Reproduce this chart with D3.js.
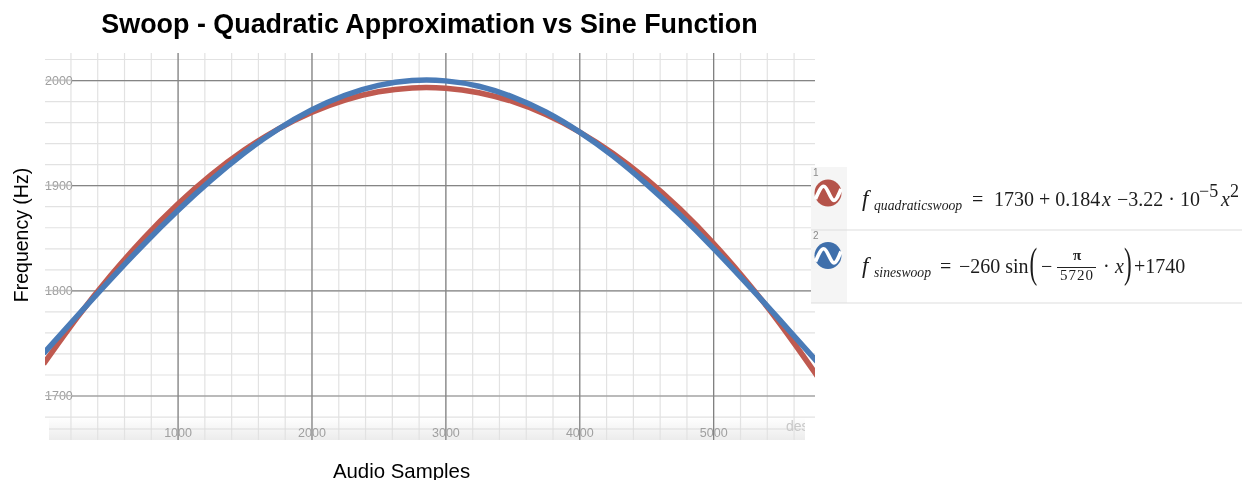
<!DOCTYPE html>
<html>
<head>
<meta charset="utf-8">
<title>Swoop - Quadratic Approximation vs Sine Function</title>
<script src="https://d3js.org/d3.v7.min.js"></script>
<style>
  html, body { margin: 0; padding: 0; background: #fff; }
  svg { display: block; font-family: "Liberation Sans", sans-serif; }
  .minor line { stroke: #e2e2e2; stroke-width: 1.2; }
  .majorx line { stroke: #666; stroke-width: 1; }
  .majory line { stroke: #858585; stroke-width: 1.2; }
  .tick-label { font-size: 12.5px; fill: #a0a0a0; }
  .eq { font-family: "Liberation Serif", serif; font-size: 20px; fill: #1c1c1c; }
  .it { font-style: italic; }
  .sub { font-style: italic; font-size: 13.7px; }
</style>
</head>
<body>
<div id="plot"></div>
<script>
// values, one per audioSamples entry
var audioSamples = [0,250,500,750,1000,1250,1500,1750,2000,2250,2500,2750,3000,3250,3500,3750,4000,4250,4500,4750,5000,5250,5500,5750,5800];
var quadraticHz = [1730,1774,1814,1849.9,1881.8,1909.7,1933.6,1953.4,1969.2,1981,1988.8,1992.5,1992.2,1987.9,1979.6,1967.2,1950.8,1930.4,1906,1877.5,1845,1808.5,1768,1723.4,1714];
var sineHz = [1740,1775.6,1810.5,1844.1,1875.7,1904.8,1930.8,1953.2,1971.5,1985.5,1994.9,1999.5,1999.2,1994.1,1984,1969.6,1950.7,1927.9,1901.3,1872,1840.2,1806.4,1771.4,1735.7,1728.6];

var xTicks = [1000,2000,3000,4000,5000];
var yTicks = [1700,1800,1900,2000];
var xMinor = d3.range(200, 5800, 200);
var yMinor = d3.range(1680, 2040, 20);

var redLine = "#bf5a50", blueLine = "#4a7bb7";

var svg = d3.select("#plot").append("svg")
    .attr("width", 1242)
    .attr("height", 480)
    .style("filter", "blur(0.35px)");

var left = 45, right = 815, top_ = 53, bottom = 440;

var x = d3.scaleLinear().domain([10, 5760]).range([left, right]);
var y = d3.scaleLinear().domain([1657.7, 2025.7]).range([bottom, top_]);

var defs = svg.append("defs");
defs.append("clipPath").attr("id", "plotclip")
  .append("rect").attr("x", left).attr("y", top_).attr("width", right - left).attr("height", bottom - top_);
var grad = defs.append("linearGradient").attr("id", "band").attr("x1", 0).attr("x2", 0).attr("y1", 0).attr("y2", 1);
grad.append("stop").attr("offset", 0).attr("stop-color", "#ffffff");
grad.append("stop").attr("offset", 1).attr("stop-color", "#ececec");

// bottom fade band sits under the grid
svg.append("rect").attr("x", 49).attr("y", 417).attr("width", 756).attr("height", 23).attr("fill", "url(#band)");

// grids
svg.append("g").attr("class", "minor")
  .attr("transform", "translate(0," + bottom + ")")
  .call(d3.axisBottom(x).tickValues(xMinor).tickSize(-(bottom - top_)).tickFormat(""))
  .call(function(g) { g.select(".domain").remove(); });
svg.append("g").attr("class", "minor")
  .attr("transform", "translate(" + right + ",0)")
  .call(d3.axisLeft(y).tickValues(yMinor).tickSize(right - left).tickFormat(""))
  .call(function(g) { g.select(".domain").remove(); });
svg.append("line").attr("x1", 49).attr("x2", 805).attr("y1", 429).attr("y2", 429)
  .attr("stroke", "#dcdcdc").attr("stroke-width", 1.2);
// the grid stops short of the right edge inside the band
svg.append("rect").attr("x", 805).attr("y", 418).attr("width", 11).attr("height", 23).attr("fill", "#fff");

svg.append("g").attr("class", "majorx")
  .attr("transform", "translate(0," + bottom + ")")
  .call(d3.axisBottom(x).tickValues(xTicks).tickSize(-(bottom - top_)).tickFormat(""))
  .call(function(g) { g.select(".domain").remove(); });
svg.append("g").attr("class", "majory")
  .attr("transform", "translate(" + right + ",0)")
  .call(d3.axisLeft(y).tickValues(yTicks).tickSize(right - 72).tickFormat(""))
  .call(function(g) { g.select(".domain").remove(); });

// curves
var line = d3.line()
    .x(function(d, i) { return x(audioSamples[i]); })
    .y(function(d) { return y(d); })
    .curve(d3.curveNatural);

var curves = svg.append("g").attr("clip-path", "url(#plotclip)");
curves.append("path").datum(quadraticHz).attr("d", line)
  .attr("fill", "none").attr("stroke", redLine).attr("stroke-width", 5.5);
curves.append("path").datum(sineHz).attr("d", line)
  .attr("fill", "none").attr("stroke", blueLine).attr("stroke-width", 5.5);

// tick labels
svg.selectAll(".xlab").data(xTicks).enter().append("text")
  .attr("class", "tick-label")
  .attr("x", function(d) { return x(d) + 0.5; })
  .attr("y", 437)
  .attr("text-anchor", "middle")
  .text(function(d) { return d; });
svg.selectAll(".ylab").data(yTicks).enter().append("text")
  .attr("class", "tick-label")
  .attr("x", 45)
  .attr("y", function(d) { return y(d) + 4.5; })
  .text(function(d) { return d; });
// the gridline runs through the y labels
svg.selectAll(".ystrike").data(yTicks).enter().append("line")
  .attr("x1", 45).attr("x2", 72)
  .attr("y1", function(d) { return y(d); })
  .attr("y2", function(d) { return y(d); })
  .attr("stroke", "#b8b8b8").attr("stroke-width", 1);

// watermark cut off by the band edge
defs.append("clipPath").attr("id", "wmclip")
  .append("rect").attr("x", 780).attr("y", 410).attr("width", 25).attr("height", 30);
svg.append("text").attr("x", 786).attr("y", 431).attr("clip-path", "url(#wmclip)")
  .attr("font-size", 14).attr("fill", "#c8c8c8").text("desmos");

// titles
svg.append("text").attr("x", 429.5).attr("y", 33).attr("text-anchor", "middle")
  .attr("font-size", 26.9).attr("font-weight", "bold").attr("fill", "#000")
  .text("Swoop - Quadratic Approximation vs Sine Function");
svg.append("text").attr("x", 401.5).attr("y", 478).attr("text-anchor", "middle")
  .attr("font-size", 20.4).attr("fill", "#000").text("Audio Samples");
svg.append("text").attr("transform", "translate(28,235) rotate(-90)").attr("text-anchor", "middle")
  .attr("font-size", 19.5).attr("fill", "#000").text("Frequency (Hz)");

// expression list panel
var panel = svg.append("g");
panel.append("rect").attr("x", 811).attr("y", 167).attr("width", 36).attr("height", 136).attr("fill", "#f5f5f5");
panel.append("line").attr("x1", 811).attr("x2", 1242).attr("y1", 230).attr("y2", 230).attr("stroke", "#dedede").attr("stroke-width", 1.2);
panel.append("line").attr("x1", 811).attr("x2", 1242).attr("y1", 303).attr("y2", 303).attr("stroke", "#dedede").attr("stroke-width", 1.2);

var wave = d3.line().curve(d3.curveNatural);
function icon(cy, color, num) {
  panel.append("circle").attr("cx", 828).attr("cy", cy).attr("r", 13.5).attr("fill", color);
  panel.append("path")
    .attr("d", wave([[815.5, cy + 6], [824.5, cy - 6.5], [833, cy + 7], [841, cy - 4]]))
    .attr("fill", "none").attr("stroke", "#fff").attr("stroke-width", 3.6);
  panel.append("text").attr("x", 813).attr("y", cy - 17).attr("font-size", 10).attr("fill", "#8a8a8a").text(num);
}
icon(193, "#b5534a", "1");
icon(255.5, "#3f6fab", "2");

function eq(px, py, str, cls, size) {
  var t = panel.append("text").attr("class", "eq " + (cls || "")).attr("x", px).attr("y", py).text(str);
  if (size) t.style("font-size", size + "px");
  return t;
}
// tall thin bracket: stretched glyph
function paren(px, py, str) {
  eq(0, 0, str, "", 42).attr("transform", "translate(" + px + "," + py + ") scale(0.55,1)");
}

// first expression
eq(862, 206, "f", "it", 23);
eq(874, 210, "quadraticswoop", "sub");
eq(972, 206, "=");
eq(994, 206, "1730 + 0.184");
eq(1102, 206, "x", "it");
eq(1117, 206, "\u22123.22 \u00b7 10");
eq(1199, 197, "\u22125", "", 18);
eq(1221, 206, "x", "it");
eq(1230, 197, "2", "", 18);

// second expression
eq(862, 273, "f", "it", 23);
eq(874, 277, "sineswoop", "sub");
eq(940, 273, "=");
eq(959, 273, "\u2212260 sin");
paren(1029.5, 277, "(");
eq(1041, 273, "\u2212");
eq(1077, 260, "\u03c0", "", 15).attr("text-anchor", "middle").attr("font-weight", "bold");
panel.append("line").attr("x1", 1057).attr("x2", 1096).attr("y1", 267.5).attr("y2", 267.5).attr("stroke", "#222").attr("stroke-width", 1);
eq(1077, 280, "5720", "", 15).attr("text-anchor", "middle").attr("letter-spacing", 1);
eq(1103, 273, "\u00b7");
eq(1115, 273, "x", "it");
paren(1124, 277, ")");
eq(1134, 273, "+1740");
</script>
</body>
</html>
